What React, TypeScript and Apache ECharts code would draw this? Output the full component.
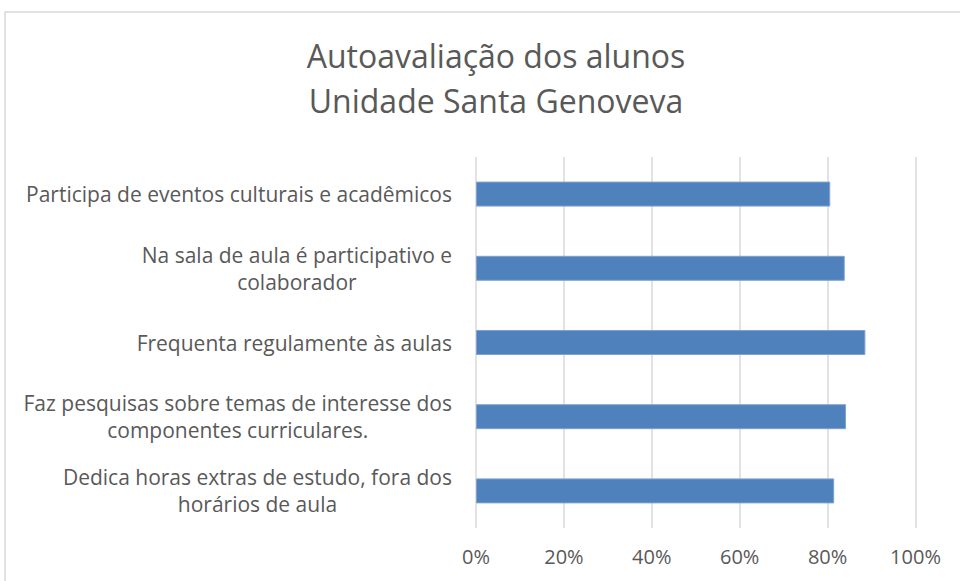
import React, { useEffect, useRef } from "react";
import * as echarts from "echarts";

const categories = [
  "Participa de eventos culturais e acadêmicos",
  "Na sala de aula é participativo e\ncolaborador",
  "Frequenta regulamente às aulas",
  "Faz pesquisas sobre temas de interesse dos\ncomponentes curriculares.",
  "Dedica horas extras de estudo, fora dos\nhorários de aula",
];
const values = [80.6, 83.9, 88.6, 84.2, 81.5];
const titleLines = ["Autoavaliação dos alunos", "Unidade Santa Genoveva"];

const FONT = "'Open Sans', 'Noto Sans', sans-serif";
const GREY = "#595959";

export default function App() {
  const ref = useRef<HTMLDivElement>(null);
  useEffect(() => {
    if (!ref.current) return;
    const chart = echarts.init(ref.current, undefined, { renderer: "svg" });
    chart.setOption({
      animation: false,
      backgroundColor: "#ffffff",
      graphic: [
        {
          type: "rect",
          shape: { x: 5, y: 12, width: 1000, height: 700 },
          style: { fill: "none", stroke: "#d9d9d9", lineWidth: 1.5 },
          silent: true,
        },
      ],
      title: {
        text: titleLines.join("\n"),
        left: 491,
        top: 28,
        textAlign: "center",
        textStyle: {
          fontFamily: FONT,
          fontSize: 32,
          fontWeight: "normal",
          color: GREY,
          lineHeight: 45,
        },
      },
      grid: { left: 476, right: 44.5, top: 157, bottom: 53, containLabel: false },
      xAxis: {
        type: "value",
        min: 0,
        max: 100,
        interval: 20,
        axisLine: { show: false },
        axisTick: { show: false },
        splitLine: { lineStyle: { color: "#d9d9d9", width: 1.5 } },
        axisLabel: {
          formatter: "{value}%",
          color: GREY,
          fontFamily: FONT,
          fontSize: 20,
          margin: 18,
        },
      },
      yAxis: {
        type: "category",
        inverse: true,
        data: categories,
        axisLine: { show: false },
        axisTick: { show: false },
        axisLabel: {
          margin: 24,
          align: "right",
          formatter: (v: string) =>
            v
              .split("\n")
              .map((l) => `{c|${l}}`)
              .join("\n"),
          rich: {
            c: {
              align: "center",
              fontFamily: FONT,
              fontSize: 21,
              color: GREY,
              lineHeight: 27,
            },
          },
        },
      },
      series: [
        {
          type: "bar",
          data: values,
          barWidth: 25,
          itemStyle: { color: "#4f81bd", borderColor: "#7ea3d1", borderWidth: 1 },
        },
      ],
    });
    return () => chart.dispose();
  }, []);
  return (
    <div
      ref={ref}
      style={{ position: "fixed", left: 0, top: 0, width: 960, height: 581 }}
    />
  );
}
